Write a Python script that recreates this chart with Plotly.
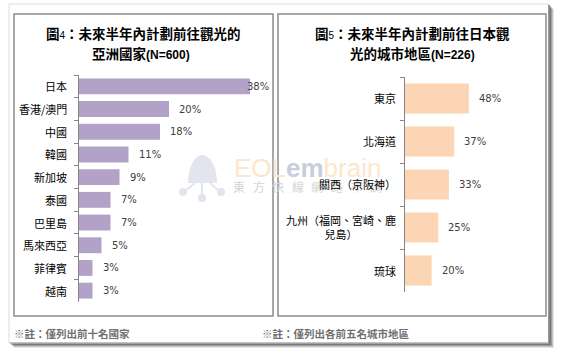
import plotly.graph_objects as go

# ---------------- data ----------------
left_title_1 = "圖4：未來半年內計劃前往觀光的"
left_title_2 = "亞洲國家(N=600)"
left_cats = ["日本", "香港/澳門", "中國", "韓國", "新加坡", "泰國", "巴里島", "馬來西亞", "菲律賓", "越南"]
left_vals = [38, 20, 18, 11, 9, 7, 7, 5, 3, 3]
left_note = "※註：僅列出前十名國家"

right_title_1 = "圖5：未來半年內計劃前往日本觀"
right_title_2 = "光的城市地區(N=226)"
right_cats = ["東京", "北海道", "關西（京阪神）", "九州（福岡、宮崎、鹿<br>兒島）", "琉球"]
right_vals = [48, 37, 33, 25, 20]
right_note = "※註：僅列出各前五名城市地區"

watermark_brand = ["EOL", "em", "brain"]
watermark_sub = "東方快線網路市調"

W, H = 562, 355
CJK = "Noto Sans CJK TC"
NUM = "DejaVu Sans"


def px(x):
    return x / W


def py(y):
    return 1 - y / H


fig = go.Figure()
fig.add_trace(go.Bar(x=left_vals, y=left_cats, orientation="h",
                     marker=dict(color="#b3a2c7", line=dict(width=0)),
                     xaxis="x", yaxis="y", hoverinfo="skip"))
fig.add_trace(go.Bar(x=right_vals, y=right_cats, orientation="h",
                     marker=dict(color="#fcd5b4", line=dict(width=0)),
                     xaxis="x2", yaxis="y2", hoverinfo="skip"))

L_X0, L_X1 = 79, 265
R_X0, R_X1 = 405, 540
L_SCALE, R_SCALE = 4.5, 1.33

axis_common = dict(showline=True, linecolor="#868686", linewidth=1,
                   ticks="outside", ticklen=4, tickcolor="#868686",
                   tickson="boundaries", showgrid=False, zeroline=False,
                   showticklabels=False, type="category", fixedrange=True)

fig.update_layout(
    width=W, height=H, margin=dict(l=0, r=0, t=0, b=0),
    paper_bgcolor="white", plot_bgcolor="rgba(0,0,0,0)",
    showlegend=False, bargap=0.3,
    xaxis=dict(domain=[px(L_X0), px(L_X1)], range=[0, (L_X1 - L_X0) / L_SCALE],
               visible=False, anchor="y", fixedrange=True),
    yaxis=dict(domain=[py(302), py(75)], anchor="x",
               categoryorder="array", categoryarray=left_cats,
               range=[len(left_cats) - 0.5, -0.5], **axis_common),
    xaxis2=dict(domain=[px(R_X0), px(R_X1)], range=[0, (R_X1 - R_X0) / R_SCALE],
                visible=False, anchor="y2", fixedrange=True),
    yaxis2=dict(domain=[py(292), py(77)], anchor="x2",
                categoryorder="array", categoryarray=right_cats,
                range=[len(right_cats) - 0.5, -0.5], **axis_common),
)

shapes = []
# outer frame with shadow
for off, op in [(5, 0.10), (4, 0.14), (3, 0.18), (2, 0.25)]:
    shapes.append(dict(type="rect", xref="paper", yref="paper", layer="below",
                       x0=px(9 + off), x1=px(549 + off), y0=py(4 + off), y1=py(343 + off),
                       fillcolor=f"rgba(0,0,0,{op})", line=dict(width=0)))
shapes.append(dict(type="rect", xref="paper", yref="paper", layer="below",
                   x0=px(9), x1=px(549), y0=py(4), y1=py(343),
                   fillcolor="white", line=dict(color="#dcdcdc", width=1)))
shapes.append(dict(type="line", xref="paper", yref="paper", layer="below",
                   x0=px(549), x1=px(549), y0=py(5), y1=py(343),
                   line=dict(color="#7a7a7a", width=1.5)))
shapes.append(dict(type="line", xref="paper", yref="paper", layer="below",
                   x0=px(10), x1=px(549), y0=py(343), y1=py(343),
                   line=dict(color="#9a9a9a", width=1)))
# panel boxes
for x0, x1 in [(14, 273), (278, 546)]:
    shapes.append(dict(type="rect", xref="paper", yref="paper", layer="below",
                       x0=px(x0), x1=px(x1), y0=py(316), y1=py(14),
                       fillcolor="rgba(0,0,0,0)", line=dict(color="#8c8c8c", width=1.5)))
# watermark logo
logo_col = "#e3e5ee"
dome = (f"M {px(188)},{py(183)} C {px(188)},{py(165)} {px(196)},{py(155)} {px(202)},{py(155)} "
        f"C {px(209)},{py(155)} {px(217)},{py(165)} {px(217)},{py(183)} Z")
shapes.append(dict(type="path", path=dome, xref="paper", yref="paper", layer="below",
                   fillcolor=logo_col, line=dict(width=0)))
for (xa, ya, xb, yb) in [(202, 183, 202, 196), (195, 183, 185, 191), (210, 183, 219, 191)]:
    shapes.append(dict(type="line", xref="paper", yref="paper", layer="below",
                       x0=px(xa), y0=py(ya), x1=px(xb), y1=py(yb),
                       line=dict(color=logo_col, width=2)))
for (cx, cy) in [(202, 198), (183, 192), (221, 192)]:
    shapes.append(dict(type="circle", xref="paper", yref="paper", layer="below",
                       x0=px(cx - 4), x1=px(cx + 4), y0=py(cy + 4), y1=py(cy - 4),
                       fillcolor=logo_col, line=dict(width=0)))
fig.update_layout(shapes=shapes)

ann = []
# watermark text
ann.append(dict(xref="paper", yref="paper", x=px(232), y=py(168), xanchor="left", yanchor="middle",
                showarrow=False,
                text=(f"<span style='color:#fde6cb'>{watermark_brand[0]}</span>"
                      f"<span style='color:#c9cddc'><b>{watermark_brand[1]}</b></span>"
                      f"<span style='color:#fde6cb'>{watermark_brand[2]}</span>"),
                font=dict(family="Liberation Sans", size=26)))
for i, ch in enumerate(watermark_sub):
    ann.append(dict(xref="paper", yref="paper", x=px(239 + i * 19.6), y=py(186),
                    xanchor="center", yanchor="middle", showarrow=False, text=ch,
                    font=dict(family=CJK, size=12, color="#d4d4d4")))

# titles
ann.append(dict(xref="paper", yref="paper", x=px(143), y=py(33), showarrow=False,
                xanchor="center", yanchor="middle",
                text="<b>" + left_title_1[0] + "</b><span style='font-size:10px;font-family:Liberation Sans'>"
                     + left_title_1[1] + "</span><b>" + left_title_1[2:] + "</b>",
                font=dict(family=CJK, size=13.5, color="black")))
ann.append(dict(xref="paper", yref="paper", x=px(141), y=py(53), showarrow=False,
                xanchor="center", yanchor="middle",
                text="<b>" + left_title_2[:4] + "</b><span style='font-family:Liberation Sans;font-size:12px'><b>"
                     + left_title_2[4:] + "</b></span>",
                font=dict(family=CJK, size=13.5, color="black")))
ann.append(dict(xref="paper", yref="paper", x=px(412), y=py(33), showarrow=False,
                xanchor="center", yanchor="middle",
                text="<b>" + right_title_1[0] + "</b><span style='font-size:10px;font-family:Liberation Sans'>"
                     + right_title_1[1] + "</span><b>" + right_title_1[2:] + "</b>",
                font=dict(family=CJK, size=13.5, color="black")))
ann.append(dict(xref="paper", yref="paper", x=px(412), y=py(53), showarrow=False,
                xanchor="center", yanchor="middle",
                text="<b>" + right_title_2[:6] + "</b><span style='font-family:Liberation Sans;font-size:12px'><b>"
                     + right_title_2[6:] + "</b></span>",
                font=dict(family=CJK, size=13.5, color="black")))

# category labels
for c in left_cats:
    ann.append(dict(xref="paper", yref="y", x=px(69), y=c, xanchor="right", yanchor="middle",
                    showarrow=False, text=c, font=dict(family=CJK, size=11, color="black")))
for c in right_cats:
    ann.append(dict(xref="paper", yref="y2", x=px(398), y=c, xanchor="right", yanchor="middle",
                    showarrow=False, text=c, align="center",
                    font=dict(family=CJK, size=11, color="black")))

# value labels
L_LABEL_MAX = 35.0
for c, v in zip(left_cats, left_vals):
    ann.append(dict(xref="x", yref="y", x=min(v, L_LABEL_MAX), y=c, xanchor="left", yanchor="middle",
                    xshift=8, showarrow=False, text=f"{v}%",
                    font=dict(family=NUM, size=10, color="#404040")))
for c, v in zip(right_cats, right_vals):
    ann.append(dict(xref="x2", yref="y2", x=v, y=c, xanchor="left", yanchor="middle",
                    xshift=8, showarrow=False, text=f"{v}%",
                    font=dict(family=NUM, size=10, color="#404040")))

# notes
ann.append(dict(xref="paper", yref="paper", x=px(12), y=py(333), xanchor="left", yanchor="middle",
                showarrow=False, text="<b>" + left_note + "</b>",
                font=dict(family=CJK, size=10.5, color="#707070")))
ann.append(dict(xref="paper", yref="paper", x=px(260), y=py(333), xanchor="left", yanchor="middle",
                showarrow=False, text="<b>" + right_note + "</b>",
                font=dict(family=CJK, size=10.5, color="#707070")))

fig.update_layout(annotations=ann)
fig.write_html("out.html", config={"displayModeBar": False},
               post_script="document.body.style.margin='0';document.body.style.overflow='hidden';")
